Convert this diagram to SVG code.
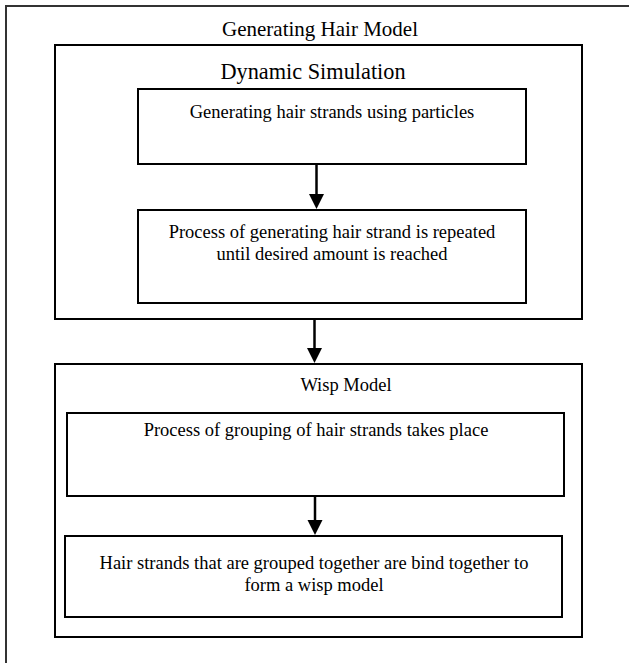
<svg xmlns="http://www.w3.org/2000/svg" width="629" height="663" viewBox="0 0 629 663">
<style>
.box{fill:none;stroke:#000;stroke-width:2}
.outer{fill:none;stroke:#333;stroke-width:2}
.t{font-family:"Liberation Serif","DejaVu Serif","Times New Roman",serif;fill:#000;text-anchor:middle}
.big{font-size:21px}
.mid{font-size:22.3px}
.sm{font-size:18.5px}
.con{stroke:#000;stroke-width:2.5;fill:none}
.head{fill:#000;stroke:none}
</style>
<rect width="629" height="663" fill="#fff"/>
<g id="generating-hair-model">
<rect class="outer" x="6" y="6" width="650" height="700"/>
<text class="t big" x="320" y="36">Generating Hair Model</text>
</g>
<g id="dynamic-simulation">
<rect class="box" x="55" y="45" width="527" height="274"/>
<text class="t mid" x="313" y="79">Dynamic Simulation</text>
</g>
<g id="generating-strands">
<rect class="box" x="138" y="89" width="388" height="75"/>
<text class="t sm" x="332" y="118">Generating hair strands using particles</text>
</g>
<g id="repeat-process">
<rect class="box" x="138" y="210" width="388" height="93"/>
<text class="t sm" x="332" y="238">Process of generating hair strand is repeated</text>
<text class="t sm" x="332" y="260">until desired amount is reached</text>
</g>
<g id="wisp-model">
<rect class="box" x="55" y="364" width="527" height="273"/>
<text class="t sm" x="346" y="391">Wisp Model</text>
</g>
<g id="grouping">
<rect class="box" x="67" y="413" width="497" height="83"/>
<text class="t sm" x="316" y="436">Process of grouping of hair strands takes place</text>
</g>
<g id="bind">
<rect class="box" x="65" y="536" width="497" height="81"/>
<text class="t sm" x="314" y="569">Hair strands that are grouped together are bind together to</text>
<text class="t sm" x="314" y="591">form a wisp model</text>
</g>
<g id="connectors">
<line class="con" x1="316.5" y1="164" x2="316.5" y2="196"/>
<polygon class="head" points="309,194 324,194 316.5,209"/>
<line class="con" x1="314.5" y1="319" x2="314.5" y2="350"/>
<polygon class="head" points="307,348 322,348 314.5,363"/>
<line class="con" x1="315" y1="496" x2="315" y2="522"/>
<polygon class="head" points="307.5,520 322.5,520 315,535"/>
</g>
</svg>
